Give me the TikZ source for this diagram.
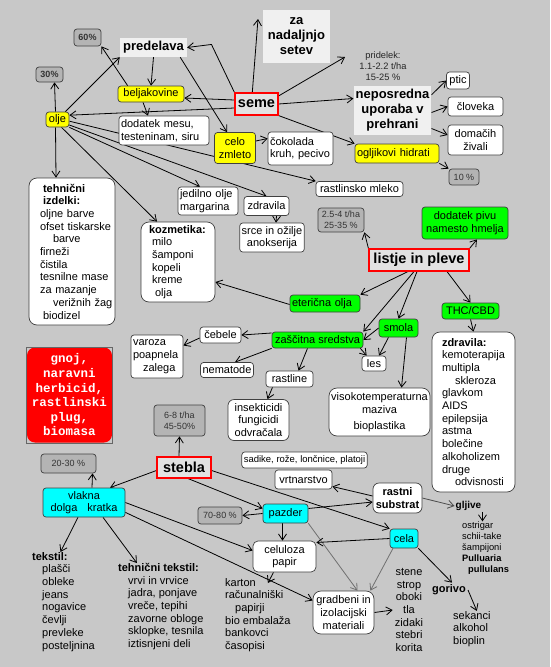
\documentclass[tikz,border=0pt]{standalone}
\usepackage{fontspec}
\setsansfont{Liberation Sans}
\setmonofont{Liberation Mono}
\usepackage{xcolor}
\definecolor{BgGray}{HTML}{C8C8C8}
\definecolor{HempYellow}{HTML}{FFFF00}
\definecolor{HempGreen}{HTML}{00FF00}
\definecolor{HempCyan}{HTML}{00FFFF}
\definecolor{HempRed}{HTML}{FF0000}
\definecolor{PctGray}{HTML}{B4B4B4}
\definecolor{PaleGray}{HTML}{F0F0F0}
\definecolor{HeadGray}{HTML}{E2E2E2}
\definecolor{LineGray}{HTML}{707070}
\usepackage{tikz}
\usetikzlibrary{arrows.meta,backgrounds}

\begin{document}
\begin{tikzpicture}[x=1pt,y=-1pt,
  font=\sffamily\fontsize{11}{12.7}\selectfont,
  >={Straight Barb[length=6pt,width=8pt]},
  wh/.style 2 args={minimum width=#1pt,minimum height=#2pt},
  base/.style={draw=black!75,line width=0.7pt,rounded corners=3pt,
    inner sep=2pt,align=center,text=black},
  wbox/.style={base,fill=white},
  ybox/.style={base,fill=HempYellow},
  gbox/.style={base,fill=HempGreen},
  cbox/.style={base,fill=HempCyan},
  bigbox/.style={wbox,rounded corners=8pt},
  pct/.style={base,fill=PctGray,text=black!80,
    font=\sffamily\fontsize{9}{11}\selectfont},
  pale/.style={fill=PaleGray,align=center,inner sep=2pt,
    font=\sffamily\bfseries\fontsize{13}{15}\selectfont},
  head/.style={draw=HempRed,fill=HeadGray,line width=1.1pt,inner sep=2pt,
    font=\sffamily\bfseries\fontsize{14.5}{17}\selectfont},
  plainlist/.style={align=left,inner sep=0pt},
  smalltxt/.style={font=\sffamily\fontsize{9.3}{11}\selectfont},
  arr/.style={->,line width=0.8pt},
  garr/.style={arr,draw=LineGray}]
\useasboundingbox (0,0) rectangle (550,667);
\begin{scope}[on background layer]
  \fill[BgGray] (0,0) rectangle (550,667);
\end{scope}
% percentages and yields
\foreach \nm/\x/\y/\w/\h/\txt in {
  p60/87.5/37.5/27/17/{\textbf{60\%}},
  p30/49.5/74.5/27/15/{\textbf{30\%}},
  p10/464/177/30/16/{10 \%},
  p25/341/220/46/24/{2.5-4 t/ha\\25-35 \%},
  p68/179.5/420.5/51/31/{6-8 t/ha\\45-50\%},
  p2030/68.5/463.5/55/19/{20-30 \%},
  p7080/220/515.5/44/17/{70-80 \%}} {
  \node[pct,wh={\w}{\h}] (\nm) at (\x,\y) {\txt};
}
% seme
\node[head,wh={43}{22}] (seme) at (256.5,104) {seme};
\node[pale,wh={67}{19}] (predelava) at (153.5,47.5) {predelava};
\node[pale,wh={67}{53}] (setev) at (296.5,36) {za\\nadaljnjo\\setev};
\node[smalltxt,align=center,text=black!85] (pridelek) at (383,66)
  {pridelek:\\1.1-2.2 t/ha\\15-25 \%};
\node[pale,wh={77}{49}] (neposredna) at (392.5,110.5) {neposredna\\uporaba v\\prehrani};
\node[ybox,wh={66}{16}] (beljak) at (151,94) {beljakovine};
\node[ybox,wh={23}{15},inner sep=1pt] (olje) at (57.5,119.5) {olje};
\node[ybox,wh={41}{31}] (celo) at (235,148) {celo\\zmleto};
\node[ybox,text width=80pt,align=left,minimum height=19pt] (ogljikovi) at (397,153.5)
  {ogljikovi hidrati};
\node[wbox,text width=86pt,align=left,minimum height=29pt] (dodatek) at (164,130.5)
  {dodatek mesu,\\testeninam, siru};
\node[wbox,text width=61pt,align=left,minimum height=33pt] (cokolada) at (300.5,148.5)
  {čokolada\\kruh, pecivo};
\node[wbox,wh={23}{17}] (ptic) at (458,80.5) {ptic};
\node[wbox,wh={55}{19}] (cloveka) at (475.5,106.5) {človeka};
\node[wbox,wh={55}{30}] (domacih) at (475.5,140) {domačih\\živali};
\node[wbox,wh={87}{15}] (mleko) at (359.5,189) {rastlinsko mleko};
% olje
\node[bigbox,text width=82pt,inner xsep=2pt,align=left,minimum height=147pt] (tehnicni)
  at (72,251.5) {\hspace*{12pt}\textbf{tehnični}\\\hspace*{12pt}\textbf{izdelki:}\\
  \hspace*{9pt}oljne barve\\\hspace*{9pt}\mbox{ofset tiskarske}\\\hspace*{22pt}barve\\
  \hspace*{9pt}firneži\\\hspace*{9pt}čistila\\\hspace*{9pt}\mbox{tesnilne mase}\\
  \hspace*{9pt}za mazanje\\\hspace*{22pt}\mbox{verižnih žag}\\\hspace*{12pt}biodizel};
\node[wbox,text width=56pt,align=left,minimum height=28pt] (jedilno) at (208,201)
  {jedilno olje\\margarina};
\node[wbox,wh={45}{19}] (zdravila) at (266.5,206) {zdravila};
\node[wbox,wh={64}{29}] (srce) at (272,237.5) {srce in ožilje\\anokserija};
\node[bigbox,text width=66pt,inner xsep=4pt,align=left,minimum height=80pt] (kozmetika)
  at (178,262) {\hspace*{4pt}\textbf{kozmetika:}\\\hspace*{7pt}milo\\\hspace*{7pt}šamponi\\
  \hspace*{7pt}kopeli\\\hspace*{7pt}kreme\\\hspace*{10pt}olja};
% listje in pleve
\node[head,wh={100}{22}] (listje) at (419,260) {listje in pleve};
\node[gbox,wh={86}{32}] (pivo) at (465,223) {dodatek pivu\\namesto hmelja};
\node[gbox,text width=66pt,align=left,minimum height=17pt] (eter) at (325,303.5)
  {eterična olja};
\node[gbox,wh={57}{16}] (thc) at (470.5,311) {THC/CBD};
\node[gbox,wh={39}{18}] (smola) at (398.5,328) {smola};
\node[gbox,wh={91}{16}] (zascitna) at (317.5,340) {zaščitna sredstva};
\node[wbox,wh={41}{16}] (cebele) at (220.5,335) {čebele};
\node[wbox,text width=48pt,align=left,minimum height=43pt] (varoza) at (157,356.5)
  {varoza\\poapnela\\\hspace*{10pt}zalega};
\node[wbox,wh={52}{15}] (nematode) at (227,370) {nematode};
\node[wbox,wh={24}{15}] (les) at (374,363.5) {les};
\node[wbox,wh={47}{16}] (rastline) at (289.5,379) {rastline};
\node[bigbox,rounded corners=6pt,wh={61}{41}] (insekticidi) at (258.5,420)
  {insekticidi\\fungicidi\\odvračala};
\node[bigbox,wh={101}{48}] (visoko) at (379.5,412)
  {visokotemperaturna\\maziva\\[3pt]bioplastika};
\node[bigbox,text width=75pt,inner xsep=4pt,align=left,minimum height=160pt] (zdravila2)
  at (473.5,412) {\hspace*{6pt}\textbf{zdravila:}\\\hspace*{6pt}kemoterapija\\
  \hspace*{6pt}multipla\\\hspace*{19pt}skleroza\\\hspace*{6pt}glavkom\\\hspace*{6pt}AIDS\\
  \hspace*{6pt}epilepsija\\\hspace*{6pt}astma\\\hspace*{6pt}bolečine\\
  \hspace*{6pt}alkoholizem\\\hspace*{6pt}druge\\\hspace*{19pt}odvisnosti};
\node[base,draw=none,fill=HempRed,rounded corners=8pt,text=white,wh={85}{95},
  font=\ttfamily\bfseries\fontsize{12.5}{14.6}\selectfont] (gnoj) at (69.5,395)
  {gnoj,\\naravni\\herbicid,\\rastlinski\\plug,\\biomasa};
\draw[black!60,line width=0.6pt] (gnoj.south west) rectangle (gnoj.north east);
% stebla
\node[head,wh={54}{21}] (stebla) at (184,467.5) {stebla};
\node[wbox,wh={124}{16},font=\sffamily\fontsize{9.5}{11}\selectfont] (sadike)
  at (304.5,460) {sadike, rože, lončnice, platoji};
\node[wbox,wh={57}{19}] (vrtnarstvo) at (303.5,479.5) {vrtnarstvo};
\node[wbox,rounded corners=6pt,wh={49}{30},
  font=\sffamily\bfseries\fontsize{11}{12.3}\selectfont] (substrat) at (397.5,498)
  {rastni\\substrat};
\node[inner sep=1pt,font=\sffamily\bfseries\fontsize{10}{12}\selectfont] (gljive)
  at (468.5,506) {gljive};
\node[plainlist,smalltxt,anchor=west] (ostrigar) at (462,548)
  {ostrigar\\schii-take\\šampijoni\\\textbf{Pulluaria}\\\hspace*{6pt}\textbf{pullulans}};
\node[cbox,wh={82}{29}] (vlakna) at (84,502.5) {vlakna\\dolga\hspace{10pt}kratka};
\node[cbox,wh={45}{19}] (pazder) at (285.5,513.5) {pazder};
\node[cbox,wh={28}{19}] (cela) at (404,538.5) {cela};
\node[wbox,rounded corners=5pt,wh={63}{31}] (celuloza) at (284.5,556.5) {celuloza\\papir};
\node[bigbox,wh={61}{43}] (gradbeni) at (343.5,612.5) {gradbeni in\\izolacijski\\materiali};
\node[plainlist,anchor=north west] (tekstil) at (32,552)
  {\textbf{tekstil:}\\\hspace*{10pt}plašči\\\hspace*{10pt}obleke\\\hspace*{10pt}jeans\\
  \hspace*{10pt}nogavice\\\hspace*{10pt}čevlji\\\hspace*{10pt}prevleke\\
  \hspace*{10pt}posteljnina};
\node[plainlist,anchor=north west] (tehtek) at (118,563)
  {\textbf{tehnični tekstil:}\\\hspace*{10pt}vrvi in vrvice\\\hspace*{10pt}jadra, ponjave\\
  \hspace*{10pt}vreče, tepihi\\\hspace*{10pt}zavorne obloge\\
  \hspace*{10pt}sklopke, tesnila\\\hspace*{10pt}iztisnjeni deli};
\node[plainlist,anchor=north west] (karton) at (225,578)
  {karton\\računalniški\\\hspace*{10pt}papirji\\bio embalaža\\bankovci\\časopisi};
\node[align=center,inner sep=2pt] (stene) at (409,610)
  {stene\\strop\\oboki\\tla\\zidaki\\stebri\\korita};
\node[inner sep=2pt,font=\sffamily\bfseries\fontsize{11}{12.7}\selectfont] (gorivo)
  at (449,590) {gorivo};
\node[plainlist,anchor=west] (sekanci) at (453,629) {sekanci\\alkohol\\bioplin};
\coordinate (zaend) at (258,19);
\coordinate (pridend) at (345,57);
% connectors
\begin{scope}[on background layer]
  \draw[arr] (seme.110) -- (zaend);
  \draw[arr] (seme.north west) -- ++(-23,-48) -- (predelava.east);
  \draw[arr] ([yshift=4pt]seme.west) -- ([yshift=-4pt]beljak.east);
  \draw[arr] ([yshift=-4pt]seme.west) -- (olje.20);
  \draw[arr] (seme.20) -- (pridend);
  \draw[arr] (seme.east) -- ([yshift=12pt]neposredna.west);
  \draw[arr] (seme.south east) -- (ogljikovi.north west);
  \draw[arr] (predelava.south) -- (beljak.north);
  \draw[arr] ([xshift=-7pt]predelava.south east) -- ([xshift=-8pt]celo.north);
  \draw[arr] ([xshift=-4pt]olje.north east) -- (predelava.south west);
  \draw[arr] ([xshift=-2pt]olje.north) -- ([xshift=5pt]p30.south);
  \draw[arr] ([xshift=-2pt]olje.south) -- ([xshift=-16pt]tehnicni.north);
  \draw[arr] ([xshift=4pt]olje.south) -- ([xshift=-21pt]kozmetika.north);
  \draw[arr] (olje.south east) -- ([xshift=-8pt]jedilno.north);
  \draw[arr] (olje.-25) -- (zdravila.north);
  \draw[arr] (olje.-8) -- (mleko.north west);
  \draw[arr] ([xshift=10pt]beljak.north west) -- (p60.south east);
  \draw[arr] ([xshift=-8pt]beljak.south) -- ([xshift=-16pt]dodatek.north);
  \draw[arr] ([yshift=7pt]celo.east) -- ([yshift=10pt]cokolada.west);
  \draw[arr] ([xshift=10pt]zdravila.south) -- ([xshift=4pt]srce.north);
  \draw[arr] ([yshift=-9pt]neposredna.north east) -- (ptic.west);
  \draw[arr] ([yshift=-2pt]neposredna.east) -- (cloveka.west);
  \draw[arr] ([yshift=-18pt]neposredna.east) -- ([yshift=5pt]domacih.west);
  \draw[arr] (ogljikovi.south east) -- (p10.north west);
  % leaves
  \draw[arr] (listje.north west) -- (p25.south east);
  \draw[arr] (listje.north east) -- ([xshift=12pt]pivo.south);
  \draw[arr] ([xshift=-11pt]listje.south) -- (eter.north east);
  \draw[arr] ([xshift=-5pt]listje.south) -- (zascitna.north east);
  \draw[arr] ([xshift=-2pt]listje.south) -- (smola.north);
  \draw[arr] ([xshift=28pt]listje.south) -- (thc.north);
  \draw[arr] (thc.south) -- (zdravila2.north);
  \draw[arr] (smola.west) -- (zascitna.east);
  \draw[arr] ([xshift=-10pt]smola.south) -- ([xshift=5pt]les.north);
  \draw[arr] ([xshift=-3pt]zascitna.south east) -- ([xshift=5pt]les.north west);
  \draw[arr] ([xshift=8pt]smola.south) -- ([xshift=22pt]visoko.north);
  \draw[arr] ([yshift=-1pt]eter.west) -- ([yshift=-20pt]kozmetika.east);
  \draw[arr] ([yshift=7pt]zascitna.west) -- (cebele.east);
  \draw[arr] ([yshift=-3pt]cebele.west) -- ([yshift=11pt]varoza.east);
  \draw[arr] (zascitna.south west) -- ([xshift=8pt]nematode.north);
  \draw[arr] ([xshift=-10pt]zascitna.south) -- ([xshift=9pt]rastline.north);
  \draw[arr] ([xshift=-17pt]rastline.south) -- ([xshift=9pt]insekticidi.north);
  % stems
  \draw[arr] ([xshift=-5pt]stebla.north) -- (p68.south);
  \draw[arr] ([yshift=-3pt]stebla.west) -- ([xshift=26pt]vlakna.north);
  \draw[arr] ([xshift=4pt]stebla.south) -- ([yshift=5pt]pazder.west);
  \draw[arr] ([yshift=-3pt]stebla.east) -- (cela.north west);
  \draw[arr] ([xshift=8pt]vlakna.north) -- ([xshift=24pt]p2030.south);
  \draw[arr] ([xshift=-6pt]vlakna.south) -- ([xshift=-3pt]tekstil.north);
  \draw[arr] ([xshift=19pt]vlakna.south) -- ([xshift=-24pt]tehtek.north);
  \draw[arr] (vlakna.east) -- ([yshift=6pt]celuloza.west);
  \draw[arr] ([yshift=5pt]vlakna.south east) -- ([yshift=12pt]gradbeni.west);
  \draw[arr] (pazder.west) -- (p7080.east);
  \draw[arr] ([xshift=-3pt]pazder.south) -- ([xshift=-2pt]celuloza.north);
  \draw[arr] ([yshift=5pt]pazder.east) -- ([yshift=-4pt]substrat.west);
  \draw[garr] (pazder.south east) -- ([xshift=14pt]gradbeni.north);
  \draw[arr] ([yshift=2pt]substrat.west) -- ([yshift=-7pt]vrtnarstvo.east);
  \draw[arr,draw=black!70] (substrat.east) -- (gljive.west);
  \draw[arr] (gljive.south east) -- (gljive.south east |- ostrigar.north);
  \draw[arr] (cela.west) -- ([yshift=14pt]celuloza.east);
  \draw[garr] ([xshift=-11pt]cela.south) -- ([xshift=-4pt]gradbeni.north east);
  \draw[arr] (cela.south east) -- ([xshift=3pt]gorivo.north);
  \draw[arr] (gorivo.east) -- ([xshift=5pt]sekanci.north);
  \draw[arr] ([xshift=-11pt]celuloza.south) -- ([xshift=10pt,yshift=-5pt]karton.north);
  \draw[arr] (gradbeni.east) -- (stene.west);
\end{scope}
\end{tikzpicture}
\end{document}
